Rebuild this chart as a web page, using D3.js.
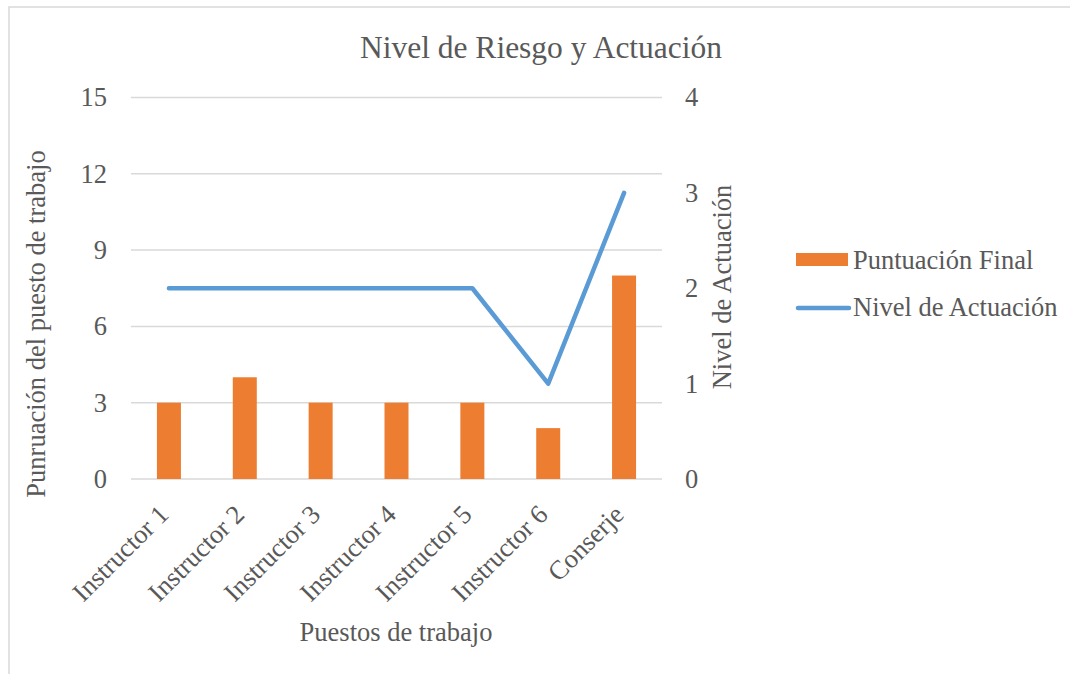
<!DOCTYPE html>
<html>
<head>
<meta charset="utf-8">
<script src="https://cdn.jsdelivr.net/npm/d3@7"></script>
<style>
  html, body { margin: 0; padding: 0; background: #fff; }
  svg { display: block; }
  text { font-family: "Liberation Serif", "Times New Roman", serif; fill: #595959; }
</style>
</head>
<body>
<svg id="chart" width="1070" height="674"></svg>
<script>
// Job positions and their scores
const categories = ["Instructor 1", "Instructor 2", "Instructor 3", "Instructor 4", "Instructor 5", "Instructor 6", "Conserje"];
const puntuacionFinal = [3, 4, 3, 3, 3, 2, 8];
const nivelActuacion = [2, 2, 2, 2, 2, 1, 3];
const leftTicks = [0, 3, 6, 9, 12, 15];
const rightTicks = [0, 1, 2, 3, 4];

const title = "Nivel de Riesgo y Actuación";
const xTitle = "Puestos de trabajo";
const yLeftTitle = "Punruación del puesto de trabajo";
const yRightTitle = "Nivel de Actuación";
const seriesNames = ["Puntuación Final", "Nivel de Actuación"];

const ORANGE = "#ED7D31", BLUE = "#5B9BD5", GRID = "#D9D9D9";
const FS = 26.5;

const svg = d3.select("#chart");

// chart frame
svg.append("path")
  .attr("d", "M9,674 V7 H1070")
  .attr("fill", "none").attr("stroke", GRID).attr("stroke-width", 1.5);

const plot = { left: 131, right: 662, top: 97.5, bottom: 479 };

const x = d3.scaleBand().domain(categories).range([plot.left, plot.right]).paddingInner(0).paddingOuter(0);
const yL = d3.scaleLinear().domain([0, 15]).range([plot.bottom, plot.top]);
const yR = d3.scaleLinear().domain([0, 4]).range([plot.bottom, plot.top]);

// gridlines
svg.append("g").selectAll("line").data(leftTicks).join("line")
  .attr("x1", plot.left).attr("x2", plot.right)
  .attr("y1", d => yL(d)).attr("y2", d => yL(d))
  .attr("stroke", GRID).attr("stroke-width", 1.5);

// left axis labels
const leftAxis = d3.axisLeft(yL).tickValues(leftTicks).tickFormat(d3.format("d")).tickSize(0).tickPadding(24);
const gL = svg.append("g").attr("transform", `translate(${plot.left},0)`).call(leftAxis);
gL.select(".domain").remove();
gL.selectAll("text").attr("font-size", FS).attr("font-family", null).attr("fill", "#595959");

// right axis labels
const rightAxis = d3.axisRight(yR).tickValues(rightTicks).tickFormat(d3.format("d")).tickSize(0).tickPadding(23);
const gR = svg.append("g").attr("transform", `translate(${plot.right},0)`).call(rightAxis);
gR.select(".domain").remove();
gR.selectAll("text").attr("font-size", FS).attr("font-family", null).attr("fill", "#595959");

// bars
const barW = 24;
svg.append("g").selectAll("rect").data(categories).join("rect")
  .attr("x", (d) => x(d) + x.bandwidth() / 2 - barW / 2)
  .attr("width", barW)
  .attr("y", (d, i) => yL(puntuacionFinal[i]))
  .attr("height", (d, i) => yL(0) - yL(puntuacionFinal[i]))
  .attr("fill", ORANGE);

// line
const line = d3.line()
  .x((d, i) => x(categories[i]) + x.bandwidth() / 2)
  .y(d => yR(d));
svg.append("path").datum(nivelActuacion)
  .attr("d", line)
  .attr("fill", "none").attr("stroke", BLUE).attr("stroke-width", 4.5)
  .attr("stroke-linecap", "round").attr("stroke-linejoin", "round");

// category labels
const gX = svg.append("g");
gX.selectAll("text").data(categories).join("text")
  .attr("transform", d => `translate(${x(d) + x.bandwidth() / 2 - 12},${plot.bottom + 24}) rotate(-45)`)
  .attr("text-anchor", "end")
  .attr("dy", "0.7em")
  .attr("font-size", FS)
  .text(d => d);

// titles
svg.append("text").attr("x", 541).attr("y", 58).attr("text-anchor", "middle")
  .attr("font-size", 31.5).text(title);
svg.append("text").attr("x", 396).attr("y", 641).attr("text-anchor", "middle")
  .attr("font-size", FS).text(xTitle);
svg.append("text").attr("transform", "translate(45,324) rotate(-90)").attr("text-anchor", "middle")
  .attr("font-size", FS).text(yLeftTitle);
svg.append("text").attr("transform", "translate(731,287) rotate(-90)").attr("text-anchor", "middle")
  .attr("font-size", FS).text(yRightTitle);

// legend
const lg = svg.append("g");
lg.append("rect").attr("x", 796).attr("y", 253).attr("width", 52).attr("height", 13).attr("fill", ORANGE);
lg.append("line").attr("x1", 798).attr("x2", 849).attr("y1", 308).attr("y2", 308)
  .attr("stroke", BLUE).attr("stroke-width", 4.5).attr("stroke-linecap", "round");
lg.selectAll("text").data(seriesNames).join("text")
  .attr("x", 853).attr("y", (d, i) => 269 + i * 47)
  .attr("font-size", FS).text(d => d);
</script>
</body>
</html>
